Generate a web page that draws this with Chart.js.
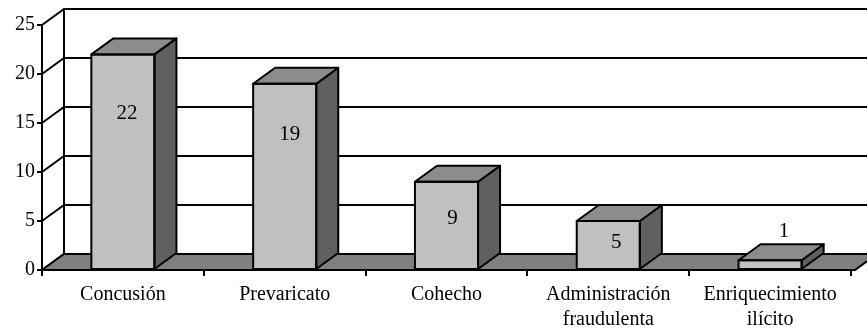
<!DOCTYPE html>
<html>
<head>
<meta charset="utf-8">
<script src="https://cdn.jsdelivr.net/npm/chart.js@4.4.0/dist/chart.umd.min.js"></script>
<style>
  html, body { margin: 0; padding: 0; background: #fff; }
  #wrap { width: 867px; height: 330px; }
</style>
</head>
<body>
<div id="wrap"><canvas id="delitos"></canvas></div>
<script>
const categorias = ["Concusión", "Prevaricato", "Cohecho", ["Administración", "fraudulenta"], ["Enriquecimiento", "ilícito"]];
const casos = [22, 19, 9, 5, 1];
const ticksY = [0, 5, 10, 15, 20, 25];

// posicion de las etiquetas (en unidades del eje) y corrimiento horizontal
const etiquetaY = [16, 13.8, 5.3, 2.8, 3.9];
const etiquetaDx = [4, 5, 6, 8, 14];

const fuente = "Liberation Serif, 'Times New Roman', serif";
const prof = { dx: 22, dy: -16 };

function poly(ctx, pts, fill) {
  ctx.beginPath();
  ctx.moveTo(pts[0][0], pts[0][1]);
  for (let i = 1; i < pts.length; i++) ctx.lineTo(pts[i][0], pts[i][1]);
  ctx.closePath();
  if (fill) { ctx.fillStyle = fill; ctx.fill(); }
  ctx.stroke();
}

const fondo3d = {
  id: 'fondo3d',
  beforeDraw(chart) {
    const ctx = chart.ctx;
    const a = chart.chartArea;
    const y = chart.scales.y;
    const r = a.right + 4;
    ctx.save();
    ctx.lineWidth = 2;
    ctx.strokeStyle = "#000";
    // pared del fondo
    ctx.beginPath();
    ctx.moveTo(a.left + prof.dx, y.getPixelForValue(0) + prof.dy);
    ctx.lineTo(a.left + prof.dx, y.getPixelForValue(25) + prof.dy);
    ctx.stroke();
    ticksY.forEach(v => {
      const py = y.getPixelForValue(v);
      ctx.beginPath();
      ctx.moveTo(a.left, py);
      ctx.lineTo(a.left + prof.dx, py + prof.dy);
      ctx.lineTo(r + prof.dx + 20, py + prof.dy);
      ctx.stroke();
    });
    // piso
    const b = y.getPixelForValue(0);
    poly(ctx, [[a.left, b], [r, b], [r + prof.dx, b + prof.dy], [a.left + prof.dx, b + prof.dy]], "#808080");
    ctx.restore();
  },
  afterDatasetsDraw(chart) {
    const ctx = chart.ctx;
    const meta = chart.getDatasetMeta(0);
    const y = chart.scales.y;
    ctx.save();
    ctx.lineWidth = 2;
    ctx.strokeStyle = "#000";
    ctx.lineJoin = "round";
    meta.data.forEach((bar, i) => {
      const l = bar.x - bar.width / 2, rr = bar.x + bar.width / 2;
      const t = bar.y, b = bar.base;
      poly(ctx, [[rr, t], [rr + prof.dx, t + prof.dy], [rr + prof.dx, b + prof.dy], [rr, b]], "#606060");
      poly(ctx, [[l, t], [l + prof.dx, t + prof.dy], [rr + prof.dx, t + prof.dy], [rr, t]], "#8c8c8c");
      ctx.strokeRect(l, t, rr - l, b - t);
      ctx.fillStyle = "#000";
      ctx.font = "21px " + fuente;
      ctx.textAlign = "center";
      ctx.textBaseline = "middle";
      ctx.fillText(String(casos[i]), bar.x + etiquetaDx[i], y.getPixelForValue(etiquetaY[i]));
    });
    ctx.restore();
  }
};

new Chart(document.getElementById("delitos"), {
  type: 'bar',
  data: {
    labels: categorias,
    datasets: [{
      label: 'Casos',
      data: casos,
      backgroundColor: "#c0c0c0",
      borderColor: "#000",
      borderWidth: 0,
      categoryPercentage: 1,
      barPercentage: 0.39
    }]
  },
  options: {
    responsive: true,
    maintainAspectRatio: false,
    animation: false,
    layout: { padding: { top: 25, right: 16, left: 0, bottom: 0 } },
    scales: {
      y: {
        min: 0,
        max: 25,
        afterFit(s) { s.width = 42; },
        ticks: { stepSize: 5, color: "#000", padding: 2, font: { family: fuente, size: 20 } },
        grid: { drawOnChartArea: false, drawTicks: true, tickLength: 5, color: "#000", lineWidth: 2 },
        border: { color: "#000", width: 2 }
      },
      x: {
        afterFit(s) { s.height = 60; },
        ticks: { color: "#000", padding: 6, maxRotation: 0, autoSkip: false, font: { family: fuente, size: 20, lineHeight: 1.25 } },
        grid: { offset: true, drawOnChartArea: false, drawTicks: true, tickLength: 6, color: "#000", lineWidth: 2 },
        border: { color: "#000", width: 2 }
      }
    },
    plugins: {
      legend: { display: false },
      tooltip: { enabled: false }
    }
  },
  plugins: [fondo3d]
});
</script>
</body>
</html>
